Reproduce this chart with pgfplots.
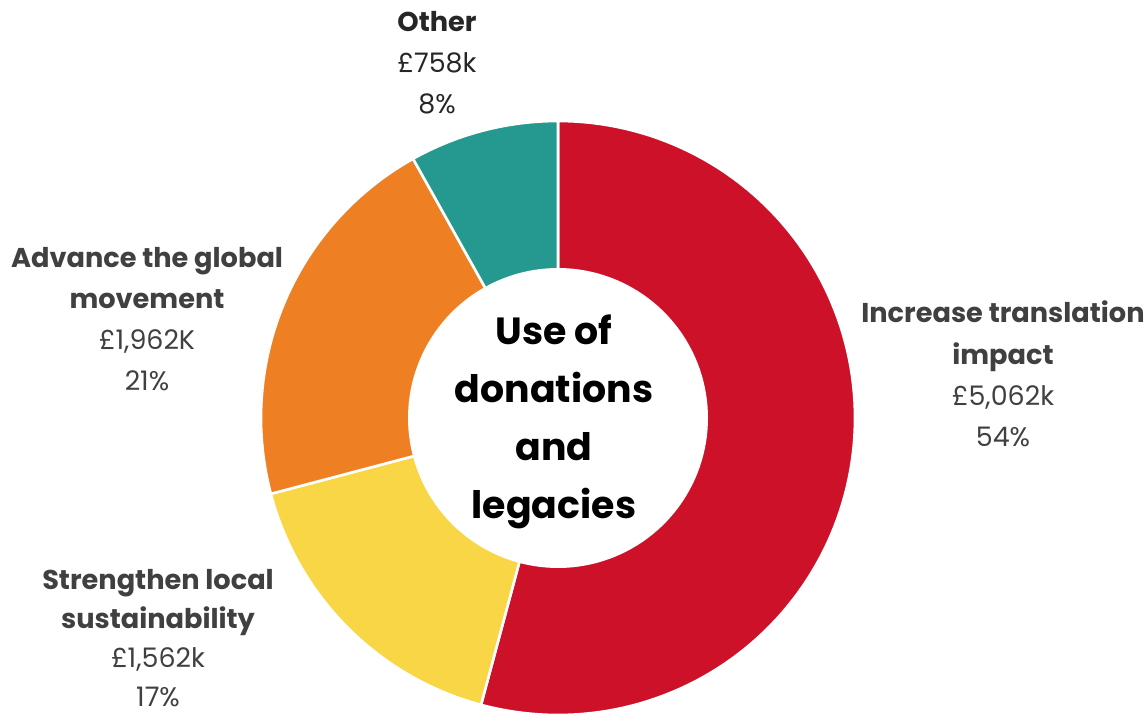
\documentclass[border=0pt]{standalone}
\usepackage{pgfplots}
\usepackage{pgfplotstable}
\pgfplotsset{compat=1.18}
\usepackage{fontspec}
\setmainfont{Poppins}
\definecolor{cred}{HTML}{CD1129}
\definecolor{cyellow}{HTML}{F9D645}
\definecolor{corange}{HTML}{EE7F22}
\definecolor{cteal}{HTML}{25998F}
\definecolor{labgray}{HTML}{404040}
\pgfplotstableread{
label value
Increase 5062
Strengthen 1562
Advance 1962
Other 758
}\datatable
\pgfplotstablegetelem{0}{value}\of\datatable \edef\va{\pgfplotsretval}
\pgfplotstablegetelem{1}{value}\of\datatable \edef\vb{\pgfplotsretval}
\pgfplotstablegetelem{2}{value}\of\datatable \edef\vc{\pgfplotsretval}
\pgfplotstablegetelem{3}{value}\of\datatable \edef\vd{\pgfplotsretval}
\pgfmathsetmacro\tot{\va+\vb+\vc+\vd}
\pgfmathsetmacro\aA{90}
\pgfmathsetmacro\aB{\aA-360*(\va/\tot)}
\pgfmathsetmacro\aC{\aB-360*(\vb/\tot)}
\pgfmathsetmacro\aD{\aC-360*(\vc/\tot)}
\pgfmathsetmacro\aE{\aD-360*(\vd/\tot)}
\def\cx{558}\def\cy{295}\def\R{297}\def\r{150}
\newcommand\bl[1]{{\fontsize{27.3}{41}\selectfont\bfseries #1}}
\begin{document}
\begin{tikzpicture}
\begin{axis}[
  width=1148bp, height=713bp, scale only axis,
  xmin=0, xmax=1148, ymin=0, ymax=713,
  hide axis, clip=false,
]
\path (axis cs:0,0) rectangle (axis cs:1148,713);
\addplot[fill=cred, draw=white, line width=2.6bp, domain=\aB:\aA, samples=120, variable=\t]
  ({\cx+\R*cos(\t)},{\cy+\R*sin(\t)}) -- (axis cs:\cx,\cy) -- cycle;
\addplot[fill=cyellow, draw=white, line width=2.6bp, domain=\aC:\aB, samples=60, variable=\t]
  ({\cx+\R*cos(\t)},{\cy+\R*sin(\t)}) -- (axis cs:\cx,\cy) -- cycle;
\addplot[fill=corange, draw=white, line width=2.6bp, domain=\aD:\aC, samples=60, variable=\t]
  ({\cx+\R*cos(\t)},{\cy+\R*sin(\t)}) -- (axis cs:\cx,\cy) -- cycle;
\addplot[fill=cteal, draw=white, line width=2.6bp, domain=\aE:\aD, samples=40, variable=\t]
  ({\cx+\R*cos(\t)},{\cy+\R*sin(\t)}) -- (axis cs:\cx,\cy) -- cycle;
\addplot[fill=white, draw=none, domain=0:360, samples=150, variable=\t]
  ({\cx+\r*cos(\t)},{\cy+\r*sin(\t)}) -- cycle;
% centre title
\node[align=center, font=\fontsize{38}{58}\selectfont\bfseries, text=black] at (axis cs:554,291) {Use of\\donations\\and\\legacies};
% labels
\node[align=center, text=labgray, font=\fontsize{27}{41.5}\selectfont] at (axis cs:1003,339)
  {\bl{Increase translation}\\\bl{impact}\\£5,062k\\54\%};
\node[align=center, text=labgray, font=\fontsize{27}{41}\selectfont] at (axis cs:147,394)
  {\bl{Advance the global}\\\bl{movement}\\£1,962K\\21\%};
\node[align=center, text=labgray, font=\fontsize{27}{39}\selectfont] at (axis cs:158,75)
  {\bl{Strengthen local}\\\bl{sustainability}\\£1,562k\\17\%};
\node[align=center, text=black!85, font=\fontsize{27}{41}\selectfont] at (axis cs:437,650)
  {\bl{Other}\\£758k\\8\%};
\end{axis}
\end{tikzpicture}
\end{document}
